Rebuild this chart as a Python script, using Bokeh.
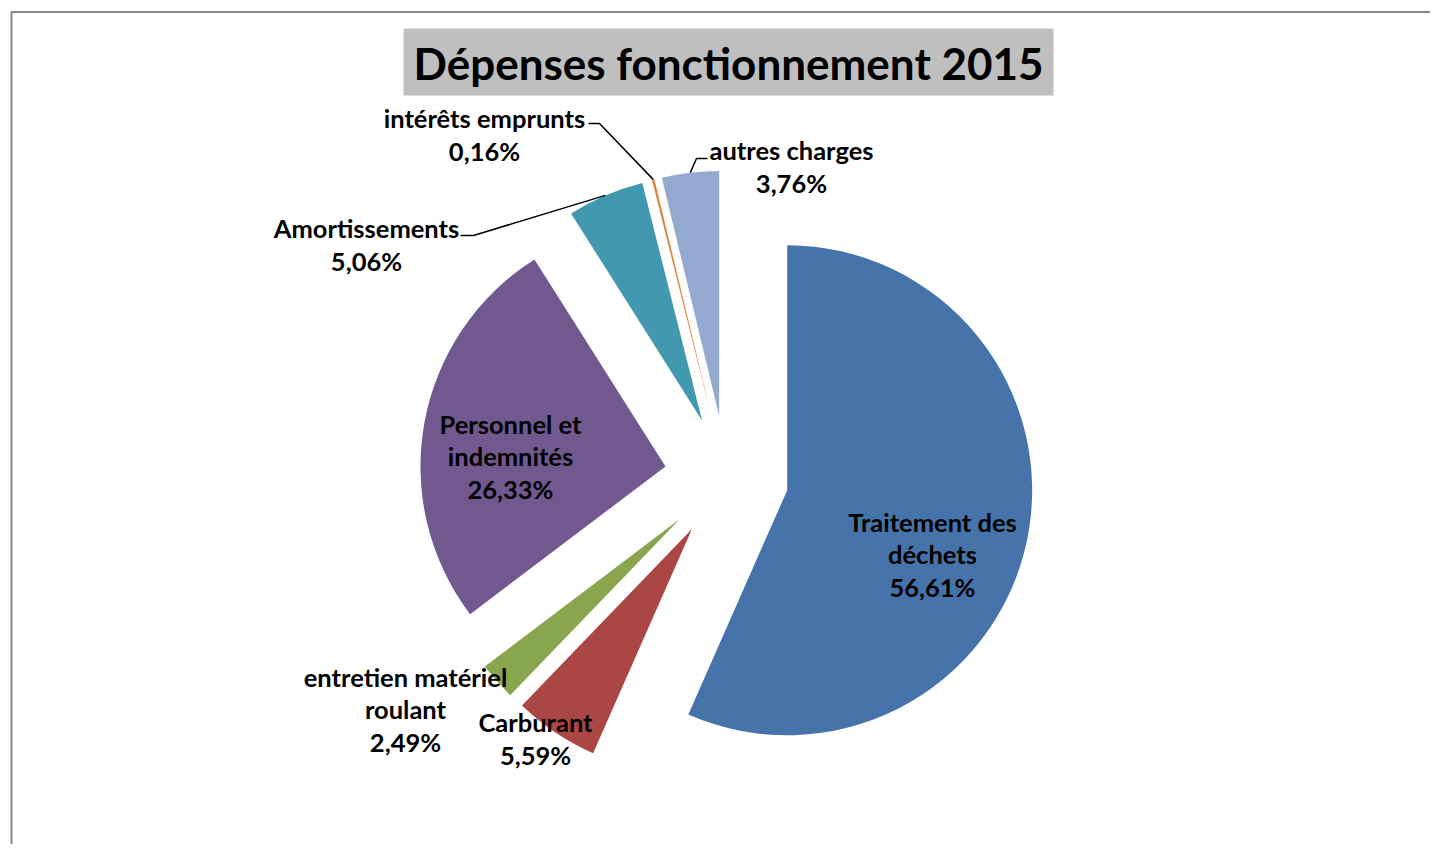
import math
from bokeh.plotting import figure
from bokeh.models import Range1d, BoxAnnotation, Label, ColumnDataSource
from bokeh.core.properties import value
from bokeh.embed import file_html
from bokeh.resources import INLINE

# ---------------- data ----------------
categories = ["Traitement des déchets", "Carburant", "entretien matériel roulant",
              "Personnel et indemnités", "Amortissements", "intérêts emprunts",
              "autres charges"]
label_lines = ["Traitement des\ndéchets", "Carburant", "entretien matériel\nroulant",
               "Personnel et\nindemnités", "Amortissements", "intérêts emprunts",
               "autres charges"]
values = [56.61, 5.59, 2.49, 26.33, 5.06, 0.16, 3.76]
colors = ["#4674AA", "#AA4643", "#89A54E", "#71588F", "#4198AF", "#DB843D", "#93A9CF"]
title_text = "Dépenses fonctionnement 2015"

# ---------------- layout (screen-like pixel units, y negative downward) ----------------
W, H = 1430, 844
CX, CY = 726.0, -477.0      # pie centre
R = 245.0                   # radius
EXPLODE = 62.0              # explosion distance
FONT = "Lato"

# label block centres (x, y) in layout units
label_pos = [(932, -554), (535, -738), (405, -709), (510, -456),
             (366, -244), (484, -134), (791, -166)]
# leader lines: (elbow, end) for outside labels, None otherwise
leaders = [None, None, None, None,
           [(473, -235), (460, -235)],
           [(599, -123), (588, -123)],
           [(696, -158), (707, -158)]]

p = figure(width=W, height=H, output_backend="svg", toolbar_location=None,
           x_range=Range1d(0, W), y_range=Range1d(-H, 0),
           min_border=0, outline_line_color=None)
p.axis.visible = False
p.xgrid.visible = False
p.ygrid.visible = False
p.background_fill_color = "white"
p.border_fill_color = "white"

# chart border (left and top visible)
p.line([11, 11, W + 20], [-H - 20, -11.5, -11.5], line_color="#888888", line_width=2)

# title box
p.add_layout(BoxAnnotation(left=403, right=1053, top=-28, bottom=-95,
                           fill_color="#BFBFBF", fill_alpha=1.0, line_color=None))
p.add_layout(Label(x=728, y=-62, text=title_text, text_font=FONT, text_font_style="bold",
                   text_font_size="44px", text_align="center", text_baseline="middle",
                   text_color="black"))

# wedges
total = sum(values)
xs, ys, sa, ea, mids = [], [], [], [], []
cum = 0.0
for v in values:
    s = cum / total * 2 * math.pi
    e = (cum + v) / total * 2 * math.pi
    m = (s + e) / 2
    cum += v
    xs.append(CX + EXPLODE * math.sin(m))
    ys.append(CY + EXPLODE * math.cos(m))
    sa.append(math.pi / 2 - e)
    ea.append(math.pi / 2 - s)
    mids.append(m)

src = ColumnDataSource(dict(x=xs, y=ys, start=sa, end=ea, color=colors, cat=categories))
p.wedge(x="x", y="y", radius=R, start_angle="start", end_angle="end",
        direction="anticlock", fill_color="color", line_color=None, source=src)

# leader lines
for i, ld in enumerate(leaders):
    if ld is None:
        continue
    px = xs[i] + R * math.sin(mids[i])
    py = ys[i] + R * math.cos(mids[i])
    lx = [px] + [q[0] for q in ld]
    ly = [py] + [q[1] for q in ld]
    p.line(lx, ly, line_color="black", line_width=1.5)

# labels
texts = []
for lab, v in zip(label_lines, values):
    texts.append(lab + "\n" + ("%.2f%%" % v).replace(".", ","))
lsrc = ColumnDataSource(dict(x=[q[0] for q in label_pos], y=[q[1] for q in label_pos], t=texts))
p.text(x="x", y="y", text="t", source=lsrc, text_font=value(FONT), text_font_style="bold",
       text_font_size="25.5px", text_align="center", text_baseline="middle",
       text_line_height=1.08, text_color="black")

open("out.html", "w").write(file_html(p, INLINE))
